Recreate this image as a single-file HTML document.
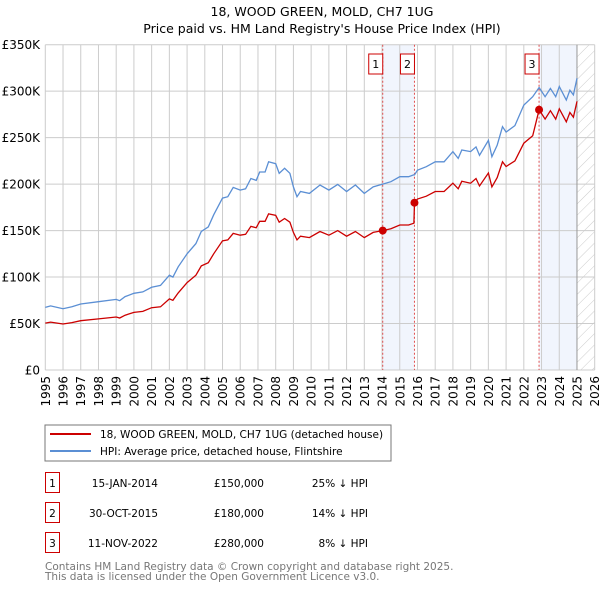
<!DOCTYPE html>
<html><head><meta charset="utf-8"><style>
body{margin:0;background:#fff;font-family:"Liberation Sans","DejaVu Sans",sans-serif;}
</style></head><body>
<svg id="c" width="600" height="590" xmlns="http://www.w3.org/2000/svg" font-family="DejaVu Sans, Liberation Sans, sans-serif">
<text x="322" y="16" text-anchor="middle" font-size="12.5">18, WOOD GREEN, MOLD, CH7 1UG</text>
<text x="322" y="33" text-anchor="middle" font-size="12.5">Price paid vs. HM Land Registry's House Price Index (HPI)</text>
<defs><pattern id="hatch" width="8" height="8" patternUnits="userSpaceOnUse" patternTransform="rotate(45)"><line x1="0" y1="0" x2="0" y2="8" stroke="#ccc" stroke-width="1"/></pattern></defs>
<g id="plot"></g>
<rect x="45" y="425" width="346" height="36" fill="#fff" stroke="#777"/>
<line x1="50" y1="434" x2="91" y2="434" stroke="#cc0000" stroke-width="2"/>
<text x="100" y="438" font-size="10.5">18, WOOD GREEN, MOLD, CH7 1UG (detached house)</text>
<line x1="50" y1="451" x2="91" y2="451" stroke="#5b8fd4" stroke-width="2"/>
<text x="100" y="455" font-size="10.5">HPI: Average price, detached house, Flintshire</text>
<g id="table" font-size="10.5"></g>
<text x="45" y="570" font-size="10.5" fill="#777">Contains HM Land Registry data © Crown copyright and database right 2025.</text>
<text x="45" y="580" font-size="10.5" fill="#777">This data is licensed under the Open Government Licence v3.0.</text>
</svg>
<script>
const years=[1995.0,1995.3,1996.0,1996.5,1997.0,1998.0,1999.0,1999.2,1999.5,2000.0,2000.5,2001.0,2001.5,2002.0,2002.2,2002.5,2003.0,2003.5,2003.8,2004.2,2004.5,2005.0,2005.3,2005.6,2006.0,2006.3,2006.6,2006.9,2007.1,2007.4,2007.6,2008.0,2008.2,2008.5,2008.8,2009.0,2009.2,2009.4,2009.9,2010.5,2011.0,2011.5,2012.0,2012.5,2013.0,2013.5,2014.04,2014.5,2015.0,2015.5,2015.8,2015.83,2016.0,2016.5,2017.0,2017.5,2018.0,2018.3,2018.5,2019.0,2019.3,2019.5,2020.0,2020.2,2020.5,2020.8,2021.0,2021.5,2022.0,2022.5,2022.86,2023.2,2023.5,2023.8,2024.0,2024.4,2024.6,2024.8,2025.0];
const hpiValues=[67.4,69,66,68,71,73.5,76,74.6,79,82.5,84,89,91,102,100,111,125,136,149,154,167,185,186.5,196.5,193.6,195,206,204,213,213,224,222,211.6,217,211.6,197,186.5,192,190,199,193.6,199.7,192,199,190,197,200,202.6,208,208,210,210,215,218.7,224,224,235,227.7,236.7,235,240,231,247,229.5,242,261.8,256,263,285,294,304,294,303,294,305,290.5,301,296,314];
const propertyValues=[50.5,51.5,49.5,51,53,55,57,56,59,62,63,67,68,76.5,75,83,94,102,112,115.5,125,139,140,147,145,146,154.5,153,160,160,168,166.5,159,163,159,148,140,144,142.5,149,145,150,144,149,142.5,148,150,152,156,156,158,180,184,187,192,192,201,195,203,201,206,198,212,197,207,224,219,225,244,252,280,270,279,270,281,267,277,272,289];
const saleYears=[2014.04,2015.83,2022.86];
const salePrices=[150,180,280];
const saleLabels=["1","2","3"];
const saleDates=["15-JAN-2014","30-OCT-2015","11-NOV-2022"];
const salePriceText=["£150,000","£180,000","£280,000"];
const saleHpiText=["25% ↓ HPI","14% ↓ HPI","8% ↓ HPI"];
const yTicks=[0,50,100,150,200,250,300,350];
const yTickLabels=["£0","£50K","£100K","£150K","£200K","£250K","£300K","£350K"];
const xTicks=[];for(let y=1995;y<=2026;y++)xTicks.push(y);

const X0=45.3,X1=594.7,Y0=370,Y1=44.7;
const xs=v=>X0+(v-1995)/31*(X1-X0);
const ys=v=>Y0-v/350*(Y0-Y1);
const NS="http://www.w3.org/2000/svg";
const plot=document.getElementById('plot');
function mk(tag,at,parent){const e=document.createElementNS(NS,tag);for(const k in at)e.setAttribute(k,at[k]);(parent||plot).appendChild(e);return e;}

let e;
e=mk('rect',{x:xs(saleYears[0]),y:Y1,width:xs(saleYears[1])-xs(saleYears[0]),height:Y0-Y1,fill:'#eef3fc',opacity:0.8});


e=mk('rect',{x:xs(saleYears[2]),y:Y1,width:xs(2025)-xs(saleYears[2]),height:Y0-Y1,fill:'#eef3fc',opacity:0.8});


e=mk('rect',{x:xs(2025),y:Y1,width:X1-xs(2025),height:Y0-Y1,fill:'url(#hatch)'});



xTicks.forEach(t=>{
  e=mk('line',{x1:xs(t),x2:xs(t),y1:Y1,y2:Y0,stroke:'#ccc','stroke-width':1});
  
  
  e=mk('text',{x:0,y:0,'font-size':12,'text-anchor':'end',transform:`translate(${xs(t)+4.5},376) rotate(-90)`});
  e.textContent=t;
  
  
});
yTicks.forEach((t,i)=>{
  e=mk('line',{x1:X0,x2:X1,y1:ys(t),y2:ys(t),stroke:'#ccc','stroke-width':1});
  
  
  e=mk('text',{x:40,y:ys(t)+4.5,'font-size':12,'text-anchor':'end'});
  e.textContent=yTickLabels[i];
  
  
});
e=mk('line',{x1:xs(2025),x2:xs(2025),y1:Y1,y2:Y0,stroke:'#999','stroke-width':1});



saleYears.forEach((s,i)=>{
  e=mk('line',{x1:xs(s),x2:xs(s),y1:Y1,y2:Y0,stroke:'#e05050','stroke-width':1,'stroke-dasharray':'2,2'});
  
  
  e=mk('rect',{x:xs(s)-14,y:54,width:14,height:20,fill:'#fff',stroke:'#cc0000'});
  
  
  e=mk('text',{x:xs(s)-7,y:68,'font-size':11,'text-anchor':'middle'});
  e.textContent=saleLabels[i];
  
  
});

const path=(vals)=>years.map((y,i)=>(i?'L':'M')+xs(y).toFixed(1)+','+ys(vals[i]).toFixed(1)).join('');
e=mk('path',{d:path(hpiValues),fill:'none',stroke:'#5b8fd4','stroke-width':1.3});


e=mk('path',{d:path(propertyValues),fill:'none',stroke:'#cc0000','stroke-width':1.3});


saleYears.forEach((s,i)=>{
  e=mk('circle',{cx:xs(s),cy:ys(salePrices[i]),r:4,fill:'#cc0000'});
  
  
});

const tbl=document.getElementById('table');
saleLabels.forEach((l,i)=>{
  const cy=487+i*30;
  e=mk('rect',{x:45.5,y:cy-14.5,width:14,height:20,fill:'#fff',stroke:'#cc0000'},tbl);
  
  
  e=mk('text',{x:52.5,y:cy,'text-anchor':'middle'},tbl);
  e.textContent=l;
  
  
  e=mk('text',{x:158,y:cy,'text-anchor':'end'},tbl);
  e.textContent=saleDates[i];
  
  
  e=mk('text',{x:264,y:cy,'text-anchor':'end'},tbl);
  e.textContent=salePriceText[i];
  
  
  e=mk('text',{x:368,y:cy,'text-anchor':'end'},tbl);
  e.textContent=saleHpiText[i];
  
  
});
</script>
</body></html>
